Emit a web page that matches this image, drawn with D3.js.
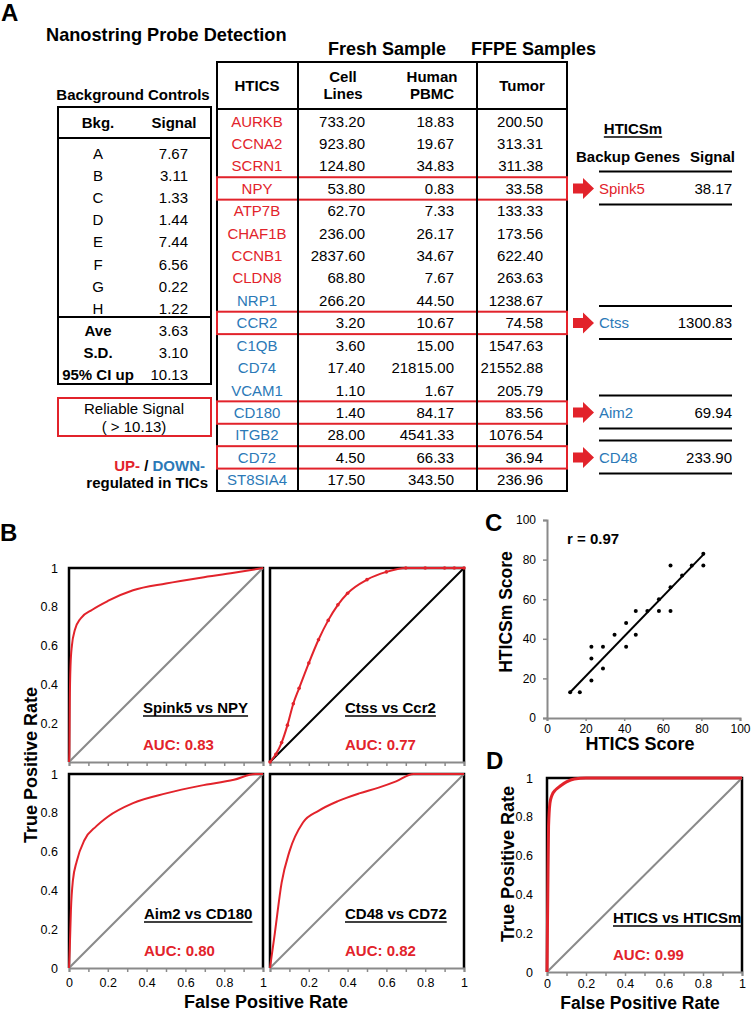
<!DOCTYPE html>
<html>
<head>
<meta charset="utf-8">
<script src="https://cdn.jsdelivr.net/npm/d3@7"></script>
<style>
	body { margin: 0; background: #fff; }
	svg text { font-family: "Liberation Sans", Arial, sans-serif; }
</style>
</head>
<body>
<svg id="fig" width="752" height="1013"></svg>
<script>
(function () {
	var RED = '#e2232b', BLUE = '#2b79b7', GREY = '#8a8a8a';

	// background controls
	var bkgNames = ['A', 'B', 'C', 'D', 'E', 'F', 'G', 'H'];
	var bkgSignal = [7.67, 3.11, 1.33, 1.44, 7.44, 6.56, 0.22, 1.22];
	var bkgStatNames = ['Ave', 'S.D.', '95% CI up'];
	var bkgStatValues = [3.63, 3.10, 10.13];

	// HTICS probes
	var genes = ['AURKB', 'CCNA2', 'SCRN1', 'NPY', 'ATP7B', 'CHAF1B', 'CCNB1', 'CLDN8', 'NRP1',
		'CCR2', 'C1QB', 'CD74', 'VCAM1', 'CD180', 'ITGB2', 'CD72', 'ST8SIA4'];
	var geneUp = [true, true, true, true, true, true, true, true, false,
		false, false, false, false, false, false, false, false];
	var cellLines = [733.20, 923.80, 124.80, 53.80, 62.70, 236.00, 2837.60, 68.80, 266.20,
		3.20, 3.60, 17.40, 1.10, 1.40, 28.00, 4.50, 17.50];
	var pbmc = [18.83, 19.67, 34.83, 0.83, 7.33, 26.17, 34.67, 7.67, 44.50,
		10.67, 15.00, 21815.00, 1.67, 84.17, 4541.33, 66.33, 343.50];
	var tumor = [200.50, 313.31, 311.38, 33.58, 133.33, 173.56, 622.40, 263.63, 1238.67,
		74.58, 1547.63, 21552.88, 205.79, 83.56, 1076.54, 36.94, 236.96];

	// backups
	var replacedGenes = ['NPY', 'CCR2', 'CD180', 'CD72'];
	var backupGenes = ['Spink5', 'Ctss', 'Aim2', 'CD48'];
	var backupSignal = [38.17, 1300.83, 69.94, 233.90];
	var backupUp = [true, false, false, false];

	// ROC curves [fpr, tpr]
	var rocSpink5 = [[0, 0], [0.002, 0.05], [0.004, 0.3], [0.008, 0.5], [0.015, 0.6], [0.03, 0.68],
		[0.06, 0.74], [0.12, 0.785], [0.2, 0.83], [0.33, 0.885], [0.5, 0.92], [0.68, 0.95], [0.85, 0.975], [1, 1]];
	var rocCtss = [[0, 0], [0.03, 0.04], [0.06, 0.1], [0.09, 0.19], [0.12, 0.3], [0.15, 0.38],
		[0.2, 0.51], [0.25, 0.63], [0.3, 0.73], [0.35, 0.81], [0.4, 0.87], [0.5, 0.94], [0.6, 0.98],
		[0.7, 1], [0.8, 1], [0.9, 1], [0.95, 1], [1, 1]];
	var rocAim2 = [[0, 0], [0.004, 0.1], [0.01, 0.3], [0.02, 0.45], [0.04, 0.55], [0.08, 0.66],
		[0.14, 0.73], [0.2, 0.78], [0.33, 0.85], [0.5, 0.9], [0.68, 0.94], [0.85, 0.97], [0.96, 1], [1, 1]];
	var rocCD48 = [[0, 0], [0.025, 0.18], [0.06, 0.44], [0.1, 0.6], [0.17, 0.75], [0.25, 0.81],
		[0.35, 0.86], [0.46, 0.9], [0.56, 0.93], [0.65, 0.962], [0.74, 1], [0.87, 1], [1, 1]];
	var rocHtics = [[0, 0], [0.004, 0.4], [0.008, 0.75], [0.015, 0.87], [0.025, 0.91], [0.045, 0.94],
		[0.07, 0.96], [0.1, 0.98], [0.14, 0.995], [0.2, 1], [0.5, 1], [1, 1]];
	var rocTitles = ['Spink5 vs NPY', 'Ctss vs Ccr2', 'Aim2 vs CD180', 'CD48 vs CD72', 'HTICS vs HTICSm'];
	var rocAUC = ['0.83', '0.77', '0.80', '0.82', '0.99'];
	var rateTicks = [0, 0.2, 0.4, 0.6, 0.8, 1];

	// score correlation
	var hticsScore = [12, 17, 23, 23, 23, 29, 29, 35, 41, 41, 46, 46, 52, 58, 58, 64, 64, 64, 70, 75, 81, 81];
	var hticsmScore = [13, 13, 19, 30, 36, 25, 36, 42, 36, 48, 42, 54, 54, 54, 60, 54, 66, 77, 72, 77, 77, 83];
	var fitX = [11.5, 81.5];
	var fitY = [12.5, 83];
	var scoreTicks = [0, 20, 40, 60, 80, 100];

	var svg = d3.select('#fig');
	var fmt = d3.format('.2f');

	function label(x, y, s, o) {
		o = o || {};
		return svg.append('text')
			.attr('x', x)
			.attr('y', y)
			.attr('font-size', o.size || 15)
			.attr('font-weight', o.bold ? 'bold' : null)
			.attr('text-anchor', o.anchor || 'start')
			.attr('fill', o.color || '#000')
			.text(s);
	}

	function underline(t, y) {
		var b = t.node().getBBox();
		svg.append('line')
			.attr('x1', b.x).attr('x2', b.x + b.width)
			.attr('y1', y).attr('y2', y)
			.attr('stroke', '#000').attr('stroke-width', 1.5);
	}

	function hline(x1, x2, y, col, w) {
		svg.append('line').attr('x1', x1).attr('x2', x2).attr('y1', y).attr('y2', y)
			.attr('stroke', col || '#000').attr('stroke-width', w || 2);
	}

	function vline(x, y1, y2, col, w) {
		svg.append('line').attr('x1', x).attr('x2', x).attr('y1', y1).attr('y2', y2)
			.attr('stroke', col || '#000').attr('stroke-width', w || 2);
	}

	// ---- panel A ----
	label(1, 21, 'A', {size: 24, bold: true});
	label(46, 41, 'Nanostring Probe Detection', {size: 18.2, bold: true});
	label(328, 55, 'Fresh Sample', {size: 18, bold: true});
	label(471, 55, 'FFPE Samples', {size: 18, bold: true});

	// background table
	label(133, 100, 'Background Controls', {bold: true, anchor: 'middle'});
	svg.append('rect').attr('x', 58).attr('y', 107).attr('width', 153).attr('height', 277)
		.attr('fill', 'none').attr('stroke', '#000').attr('stroke-width', 2);
	hline(58, 211, 138);
	hline(58, 211, 317);
	label(98, 128, 'Bkg.', {bold: true, anchor: 'middle'});
	label(174, 128, 'Signal', {bold: true, anchor: 'middle'});

	var bkgY = d3.scaleBand().domain(bkgNames.concat(bkgStatNames)).range([142, 386]);
	bkgNames.forEach(function (d, i) {
		var cy = bkgY(d) + bkgY.bandwidth() / 2;
		label(98, cy + 5.5, d, {anchor: 'middle'});
		label(188, cy + 5.5, fmt(bkgSignal[i]), {anchor: 'end'});
	});
	bkgStatNames.forEach(function (d, i) {
		var cy = bkgY(d) + bkgY.bandwidth() / 2;
		label(98, cy + 5.5, d, {anchor: 'middle', bold: true});
		label(188, cy + 5.5, fmt(bkgStatValues[i]), {anchor: 'end'});
	});

	svg.append('rect').attr('x', 58).attr('y', 398).attr('width', 153).attr('height', 38)
		.attr('fill', 'none').attr('stroke', RED).attr('stroke-width', 2);
	label(134, 414, 'Reliable Signal', {anchor: 'middle'});
	label(134, 432, '( > ' + fmt(bkgStatValues[2]) + ')', {anchor: 'middle'});

	var leg = label(205, 471, '', {bold: true, anchor: 'end'});
	leg.append('tspan').attr('fill', RED).text('UP-');
	leg.append('tspan').text(' / ');
	leg.append('tspan').attr('fill', BLUE).text('DOWN-');
	label(208, 488, 'regulated in TICs', {bold: true, anchor: 'end'});

	// main table
	var rowY = d3.scaleBand().domain(genes).range([110, 491]);
	var mid = function (g) { return rowY(g) + rowY.bandwidth() / 2; };

	svg.append('rect').attr('x', 217).attr('y', 62).attr('width', 350).attr('height', 429)
		.attr('fill', 'none').attr('stroke', '#000').attr('stroke-width', 2);
	hline(217, 567, 109);

	svg.selectAll('.redbox')
		.data(replacedGenes)
		.enter()
		.append('rect')
		.attr('class', 'redbox')
		.attr('x', 217)
		.attr('y', d => rowY(d))
		.attr('width', 350)
		.attr('height', rowY.bandwidth())
		.attr('fill', 'none')
		.attr('stroke', RED)
		.attr('stroke-width', 2);

	vline(298, 62, 491);
	vline(477, 62, 491);

	label(257, 91, 'HTICS', {bold: true, anchor: 'middle'});
	label(343, 82, 'Cell', {bold: true, anchor: 'middle'});
	label(343, 99, 'Lines', {bold: true, anchor: 'middle'});
	label(432, 82, 'Human', {bold: true, anchor: 'middle'});
	label(432, 99, 'PBMC', {bold: true, anchor: 'middle'});
	label(522, 91, 'Tumor', {bold: true, anchor: 'middle'});

	genes.forEach(function (g, i) {
		var by = mid(g) + 5.4;
		label(257, by, g, {anchor: 'middle', color: geneUp[i] ? RED : BLUE});
		label(365, by, fmt(cellLines[i]), {anchor: 'end'});
		label(454, by, fmt(pbmc[i]), {anchor: 'end'});
		label(543, by, fmt(tumor[i]), {anchor: 'end'});
	});

	// HTICSm backup table
	var hm = label(633, 134, 'HTICSm', {bold: true, anchor: 'middle'});
	underline(hm, 137);
	label(576, 162, 'Backup Genes', {bold: true});
	label(735, 162, 'Signal', {bold: true, anchor: 'end'});

	replacedGenes.forEach(function (g, i) {
		var cy = mid(g);
		svg.append('path')
			.attr('d', 'M573,' + (cy - 5) + 'H583V' + (cy - 10.5) + 'L594,' + cy + 'L583,' + (cy + 10.5) + 'V' + (cy + 5) + 'H573Z')
			.attr('fill', RED);
		hline(599, 732, cy - 17);
		hline(599, 732, cy + 16);
		label(599, cy + 5.4, backupGenes[i], {color: backupUp[i] ? RED : BLUE});
		label(732, cy + 5.4, fmt(backupSignal[i]), {anchor: 'end'});
	});

	// ---- panel B / D : ROC ----
	label(0, 541, 'B', {size: 24, bold: true});
	label(486, 769, 'D', {size: 24, bold: true});

	var panels = [
		{data: rocSpink5, left: 69, top: 568, w: 194, diag: GREY, yTicks: [0.2, 0.4, 0.6, 0.8, 1], xTicks: null, ypad: 11, tx: 74, lw: 2, dots: false},
		{data: rocCtss, left: 270, top: 568, w: 194, diag: '#000', yTicks: null, xTicks: null, tx: 75, lw: 2, dots: true},
		{data: rocAim2, left: 69, top: 774, w: 194, diag: GREY, yTicks: rateTicks, xTicks: rateTicks, ypad: 11, xpad: 10.5, tx: 75, lw: 2, dots: false},
		{data: rocCD48, left: 270, top: 774, w: 194, diag: GREY, yTicks: null, xTicks: [0.2, 0.4, 0.6, 0.8, 1], xpad: 10.5, tx: 75, lw: 2, dots: false},
		{data: rocHtics, left: 547, top: 778, w: 195, diag: GREY, yTicks: rateTicks, xTicks: rateTicks, ypad: 14, xpad: 7.5, tx: 66, lw: 3, dots: false}
	];

	panels.forEach(function (p, i) {
		var x = d3.scaleLinear().domain([0, 1]).range([p.left, p.left + p.w]);
		var y = d3.scaleLinear().domain([0, 1]).range([p.top + 194, p.top]);

		svg.append('path')
			.attr('d', 'M' + x(0) + ',' + y(0) + 'V' + y(1) + 'H' + x(1) + 'V' + y(0))
			.attr('fill', 'none').attr('stroke', '#000').attr('stroke-width', 2.5);

		var ax = svg.append('g')
			.attr('transform', 'translate(0,' + y(0) + ')')
			.call(d3.axisBottom(x).tickValues(d3.range(0, 1.0001, 0.1)).tickSize(4).tickFormat(''));
		ax.select('.domain').attr('stroke', GREY).attr('stroke-width', 2);
		ax.selectAll('.tick line').attr('stroke', GREY).attr('stroke-width', 1.5);

		if (p.xTicks) {
			var xl = svg.append('g')
				.attr('transform', 'translate(0,' + y(0) + ')')
				.call(d3.axisBottom(x).tickValues(p.xTicks).tickSize(0).tickPadding(p.xpad).tickFormat(String));
			xl.select('.domain').remove();
			xl.selectAll('text').attr('font-size', 12.5).attr('font-family', null).attr('fill', '#000');
		}
		if (p.yTicks) {
			var yl = svg.append('g')
				.attr('transform', 'translate(' + x(0) + ',0)')
				.call(d3.axisLeft(y).tickValues(p.yTicks).tickSize(0).tickPadding(p.ypad).tickFormat(String));
			yl.select('.domain').remove();
			yl.selectAll('text').attr('font-size', 12.5).attr('font-family', null).attr('fill', '#000');
		}

		svg.append('line')
			.attr('x1', x(0)).attr('y1', y(0)).attr('x2', x(1)).attr('y2', y(1))
			.attr('stroke', p.diag).attr('stroke-width', 2);

		var line = d3.line()
			.x(d => x(d[0]))
			.y(d => y(d[1]))
			.curve(d3.curveMonotoneX);
		svg.append('path')
			.datum(p.data)
			.attr('d', line)
			.attr('fill', 'none')
			.attr('stroke', RED)
			.attr('stroke-width', p.lw);
		if (p.dots) {
			svg.selectAll('.pt' + i)
				.data(p.data)
				.enter()
				.append('circle')
				.attr('cx', d => x(d[0]))
				.attr('cy', d => y(d[1]))
				.attr('r', 1.8)
				.attr('fill', RED);
		}

		var t = label(p.left + p.tx, p.top + 145, rocTitles[i], {bold: true});
		underline(t, p.top + 148);
		label(p.left + p.tx, p.top + 182, 'AUC: ' + rocAUC[i], {bold: true, color: RED});
	});

	label(0, 0, 'True Positive Rate', {size: 18, bold: true, anchor: 'middle'})
		.attr('transform', 'translate(37,765) rotate(-90)');
	label(266, 1008, 'False Positive Rate', {size: 18, bold: true, anchor: 'middle'});
	label(0, 0, 'True Positive Rate', {size: 18, bold: true, anchor: 'middle'})
		.attr('transform', 'translate(514,864) rotate(-90)');
	label(640, 1009, 'False Positive Rate', {size: 17.5, bold: true, anchor: 'middle'});

	// ---- panel C : scatter ----
	label(485, 531, 'C', {size: 24, bold: true});
	var sx = d3.scaleLinear().domain([0, 100]).range([547, 740]);
	var sy = d3.scaleLinear().domain([0, 100]).range([718, 520]);

	var cx = svg.append('g')
		.attr('transform', 'translate(0,718)')
		.call(d3.axisBottom(sx).tickValues(scoreTicks).tickSize(3).tickPadding(3));
	var cy = svg.append('g')
		.attr('transform', 'translate(547,0)')
		.call(d3.axisLeft(sy).tickValues(scoreTicks).tickSize(4).tickPadding(7));
	[cx, cy].forEach(function (a) {
		a.select('.domain').attr('stroke', GREY).attr('stroke-width', 2);
		a.selectAll('.tick line').attr('stroke', GREY).attr('stroke-width', 1.5);
		a.selectAll('text').attr('font-size', 12).attr('font-family', null).attr('fill', '#000');
	});

	svg.append('line')
		.attr('x1', sx(fitX[0])).attr('y1', sy(fitY[0]))
		.attr('x2', sx(fitX[1])).attr('y2', sy(fitY[1]))
		.attr('stroke', '#000').attr('stroke-width', 2);

	svg.selectAll('.dot')
		.data(hticsScore)
		.enter()
		.append('circle')
		.attr('class', 'dot')
		.attr('cx', d => sx(d))
		.attr('cy', (d, i) => sy(hticsmScore[i]))
		.attr('r', 2)
		.attr('fill', '#000');

	label(567, 544, 'r = 0.97', {bold: true});
	label(640, 750, 'HTICS Score', {size: 18, bold: true, anchor: 'middle'});
	label(0, 0, 'HTICSm Score', {size: 17.5, bold: true, anchor: 'middle'})
		.attr('transform', 'translate(512,612) rotate(-90)');
}());
</script>
</body>
</html>
